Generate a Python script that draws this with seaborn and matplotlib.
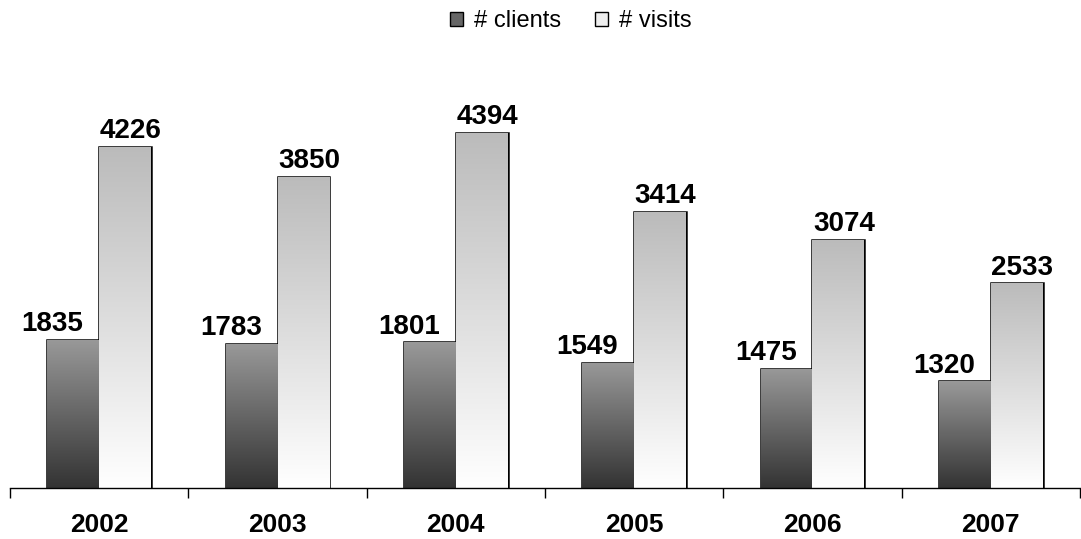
import matplotlib
matplotlib.use("Agg")
import matplotlib.pyplot as plt
import seaborn as sns
import numpy as np
import pandas as pd
from matplotlib.patches import Patch
from matplotlib.colors import LinearSegmentedColormap

years = ["2002", "2003", "2004", "2005", "2006", "2007"]
clients = [1835, 1783, 1801, 1549, 1475, 1320]
visits = [4226, 3850, 4394, 3414, 3074, 2533]
series = ["# clients", "# visits"]

df = pd.DataFrame({
    "year": years * 2,
    "value": clients + visits,
    "series": [series[0]] * len(years) + [series[1]] * len(years),
})

sns.set_theme(style="white")
plt.rcParams["font.family"] = ["Liberation Sans", "DejaVu Sans"]

fig = plt.figure(figsize=(10.81, 5.39), dpi=100)
ax = fig.add_axes([10 / 1081, 51 / 539, 1070 / 1081, 418 / 539])

sns.barplot(data=df, x="year", y="value", hue="series", ax=ax,
            width=0.58, palette=["#666666", "#eeeeee"],
            edgecolor="black", linewidth=1.8, legend=False)

cmaps = {
    0: LinearSegmentedColormap.from_list("cl", ["#333333", "#999999"]),
    1: LinearSegmentedColormap.from_list("vi", ["#ffffff", "#bbbbbb"]),
}
grad = np.linspace(0, 1, 256).reshape(-1, 1)
n = len(years)
for i, bar in enumerate(ax.patches[:2 * n]):
    s = i // n
    x0, y0 = bar.get_x(), bar.get_y()
    w, h = bar.get_width(), bar.get_height()
    im = ax.imshow(grad, cmap=cmaps[s], aspect="auto", origin="lower",
                   extent=[x0, x0 + w, y0, y0 + h], zorder=1.9)
    im.set_clip_path(bar)
    bar.set_facecolor("none")
    # data labels
    off = -15 if s == 0 else 4
    ax.annotate(f"{int(h)}", (x0 + w / 2, h), xytext=(off, 2),
                textcoords="offset points", ha="center", va="bottom",
                fontsize=20, fontweight="bold", color="black")

ax.set_xlim(-0.5, n - 0.5)
ax.set_ylim(0, 5173)
ax.set_xlabel("")
ax.set_ylabel("")
ax.set_yticks([])
for sp in ["top", "right", "left"]:
    ax.spines[sp].set_visible(False)
ax.spines["bottom"].set_color("black")
ax.spines["bottom"].set_linewidth(1)

ax.set_xticks(np.arange(-0.5, n, 1.0))
ax.set_xticklabels([])
ax.tick_params(axis="x", which="major", direction="out", length=7,
               width=1, color="black", bottom=True)
ax.set_xticks(np.arange(n), minor=True)
ax.set_xticklabels(years, minor=True, fontsize=19, fontweight="bold",
                   color="black")
ax.tick_params(axis="x", which="minor", length=0, pad=18)

handles = [Patch(facecolor="#666666", edgecolor="black", linewidth=1),
           Patch(facecolor="#eeeeee", edgecolor="black", linewidth=1)]
fig.legend(handles, series, loc="upper center", bbox_to_anchor=(0.528, 1.02),
           ncol=2, frameon=False, fontsize=17, handlelength=0.55,
           handleheight=0.55, handletextpad=0.5, columnspacing=1.4,
           labelcolor="black")

fig.savefig("out.png", dpi=100)
